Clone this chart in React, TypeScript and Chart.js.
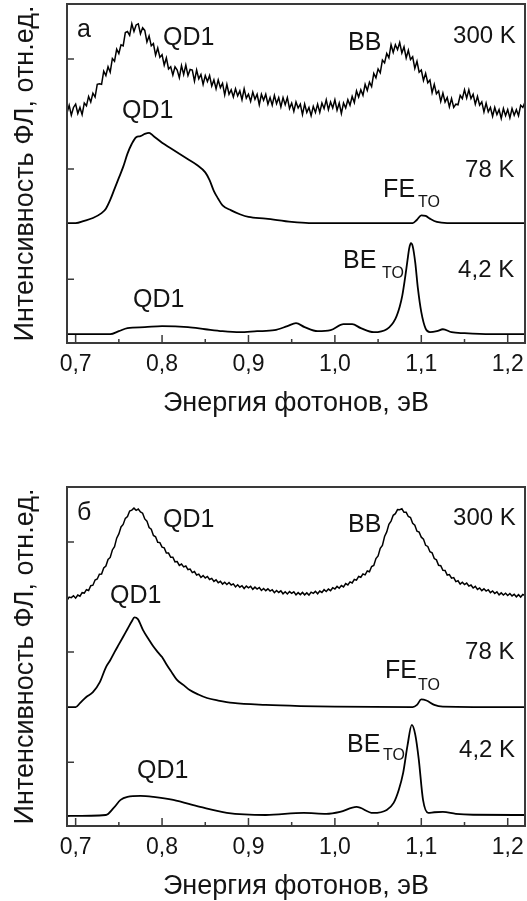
import React, { useEffect, useRef } from "react";
import { Chart, registerables } from "chart.js";

Chart.register(...registerables);

const FONT = "'Liberation Sans', Arial, sans-serif";
const INK = "#141414";
const FRAME = "#3a3a3a";

// Dense energy grid shared by the noisy 300 K spectra (eV)
const energy300 = [
  0.69, 0.6925, 0.695, 0.6975, 0.7, 0.7025, 0.705, 0.7075, 0.71, 0.7125,
  0.715, 0.7175, 0.72, 0.7225, 0.725, 0.7275, 0.73, 0.7325, 0.735, 0.7375,
  0.74, 0.7425, 0.745, 0.7475, 0.75, 0.7525, 0.755, 0.7575, 0.76, 0.7625,
  0.765, 0.7675, 0.77, 0.7725, 0.775, 0.7775, 0.78, 0.7825, 0.785, 0.7875,
  0.79, 0.7925, 0.795, 0.7975, 0.8, 0.8025, 0.805, 0.8075, 0.81, 0.8125,
  0.815, 0.8175, 0.82, 0.8225, 0.825, 0.8275, 0.83, 0.8325, 0.835, 0.8375,
  0.84, 0.8425, 0.845, 0.8475, 0.85, 0.8525, 0.855, 0.8575, 0.86, 0.8625,
  0.865, 0.8675, 0.87, 0.8725, 0.875, 0.8775, 0.88, 0.8825, 0.885, 0.8875,
  0.89, 0.8925, 0.895, 0.8975, 0.9, 0.9025, 0.905, 0.9075, 0.91, 0.9125,
  0.915, 0.9175, 0.92, 0.9225, 0.925, 0.9275, 0.93, 0.9325, 0.935, 0.9375,
  0.94, 0.9425, 0.945, 0.9475, 0.95, 0.9525, 0.955, 0.9575, 0.96, 0.9625,
  0.965, 0.9675, 0.97, 0.9725, 0.975, 0.9775, 0.98, 0.9825, 0.985, 0.9875,
  0.99, 0.9925, 0.995, 0.9975, 1.0, 1.0025, 1.005, 1.0075, 1.01, 1.0125,
  1.015, 1.0175, 1.02, 1.0225, 1.025, 1.0275, 1.03, 1.0325, 1.035, 1.0375,
  1.04, 1.0425, 1.045, 1.0475, 1.05, 1.0525, 1.055, 1.0575, 1.06, 1.0625,
  1.065, 1.0675, 1.07, 1.0725, 1.075, 1.0775, 1.08, 1.0825, 1.085, 1.0875,
  1.09, 1.0925, 1.095, 1.0975, 1.1, 1.1025, 1.105, 1.1075, 1.11, 1.1125,
  1.115, 1.1175, 1.12, 1.1225, 1.125, 1.1275, 1.13, 1.1325, 1.135, 1.1375,
  1.14, 1.1425, 1.145, 1.1475, 1.15, 1.1525, 1.155, 1.1575, 1.16, 1.1625,
  1.165, 1.1675, 1.17, 1.1725, 1.175, 1.1775, 1.18, 1.1825, 1.185, 1.1875,
  1.19, 1.1925, 1.195, 1.1975, 1.2, 1.2025, 1.205, 1.2075, 1.21, 1.2125,
  1.215, 1.2175, 1.22,
];

// Panel а — 300 K (offset PL intensity, arb. units)
const pl300a = [
  1.51, 1.58, 1.49, 1.56, 1.59, 1.505, 1.56, 1.495, 1.6, 1.575,
  1.66, 1.61, 1.69, 1.655, 1.77, 1.775, 1.77, 1.89, 1.85, 1.93,
  1.88, 2.005, 1.98, 2.09, 2.05, 2.13, 2.12, 2.24, 2.25, 2.215,
  2.32, 2.25, 2.31, 2.32, 2.23, 2.285, 2.26, 2.155, 2.21, 2.12,
  2.14, 2.035, 2.1, 2.015, 2.04, 1.945, 2.01, 1.91, 1.93, 1.855,
  1.93, 1.9, 1.83, 1.94, 1.86, 1.945, 1.85, 1.905, 1.9, 1.8,
  1.9, 1.82, 1.86, 1.77, 1.85, 1.795, 1.85, 1.755, 1.81, 1.73,
  1.81, 1.74, 1.78, 1.675, 1.77, 1.68, 1.72, 1.655, 1.73, 1.665,
  1.71, 1.63, 1.73, 1.645, 1.68, 1.615, 1.7, 1.635, 1.68, 1.585,
  1.68, 1.625, 1.68, 1.59, 1.65, 1.58, 1.67, 1.595, 1.65, 1.565,
  1.65, 1.585, 1.65, 1.55, 1.6, 1.525, 1.61, 1.555, 1.59, 1.495,
  1.59, 1.515, 1.56, 1.485, 1.57, 1.515, 1.59, 1.515, 1.6, 1.55,
  1.63, 1.54, 1.61, 1.555, 1.63, 1.535, 1.6, 1.505, 1.6, 1.555,
  1.63, 1.58, 1.66, 1.605, 1.71, 1.655, 1.72, 1.67, 1.77, 1.715,
  1.79, 1.75, 1.87, 1.83, 1.91, 1.875, 1.99, 1.965, 2.05, 2.01,
  2.13, 2.06, 2.13, 2.085, 2.15, 2.055, 2.11, 2.01, 2.08, 1.995,
  2.02, 1.915, 1.98, 1.88, 1.9, 1.805, 1.87, 1.785, 1.81, 1.695,
  1.77, 1.685, 1.71, 1.615, 1.69, 1.61, 1.65, 1.565, 1.64, 1.56,
  1.59, 1.585, 1.67, 1.64, 1.72, 1.645, 1.72, 1.64, 1.68, 1.59,
  1.66, 1.58, 1.61, 1.52, 1.6, 1.52, 1.56, 1.48, 1.56, 1.495,
  1.54, 1.46, 1.55, 1.485, 1.54, 1.465, 1.55, 1.49, 1.54, 1.485,
  1.58, 1.56, 1.61,
];

// Panel б — 300 K
const pl300b = [
  1.47, 1.5, 1.495, 1.512, 1.49, 1.518, 1.508, 1.54, 1.536, 1.567,
  1.56, 1.603, 1.608, 1.655, 1.664, 1.707, 1.71, 1.765, 1.782, 1.842,
  1.86, 1.928, 1.958, 2.035, 2.074, 2.137, 2.16, 2.215, 2.232, 2.282,
  2.29, 2.308, 2.288, 2.3, 2.274, 2.262, 2.21, 2.19, 2.132, 2.117,
  2.06, 2.048, 1.998, 1.995, 1.954, 1.947, 1.9, 1.9, 1.862, 1.862,
  1.82, 1.823, 1.788, 1.8, 1.774, 1.782, 1.75, 1.755, 1.722, 1.732,
  1.7, 1.708, 1.678, 1.695, 1.674, 1.687, 1.66, 1.67, 1.642, 1.657,
  1.63, 1.643, 1.618, 1.635, 1.614, 1.632, 1.61, 1.62, 1.592, 1.612,
  1.59, 1.603, 1.578, 1.6, 1.584, 1.597, 1.57, 1.59, 1.572, 1.587,
  1.56, 1.578, 1.558, 1.575, 1.554, 1.567, 1.54, 1.56, 1.542, 1.557,
  1.53, 1.548, 1.528, 1.55, 1.534, 1.547, 1.52, 1.54, 1.522, 1.542,
  1.52, 1.538, 1.518, 1.545, 1.534, 1.552, 1.53, 1.555, 1.542, 1.567,
  1.55, 1.573, 1.558, 1.585, 1.574, 1.597, 1.58, 1.605, 1.592, 1.622,
  1.61, 1.638, 1.628, 1.66, 1.654, 1.687, 1.68, 1.71, 1.702, 1.737,
  1.73, 1.778, 1.788, 1.85, 1.874, 1.942, 1.97, 2.05, 2.092, 2.162,
  2.19, 2.243, 2.258, 2.295, 2.294, 2.302, 2.27, 2.27, 2.232, 2.222,
  2.17, 2.153, 2.098, 2.09, 2.044, 2.027, 1.97, 1.96, 1.912, 1.902,
  1.85, 1.838, 1.788, 1.785, 1.744, 1.742, 1.7, 1.705, 1.672, 1.677,
  1.64, 1.648, 1.618, 1.635, 1.614, 1.627, 1.6, 1.61, 1.582, 1.597,
  1.57, 1.583, 1.558, 1.575, 1.554, 1.567, 1.54, 1.555, 1.532, 1.547,
  1.52, 1.538, 1.518, 1.535, 1.514, 1.532, 1.51, 1.525, 1.502, 1.522,
  1.5, 1.523, 1.514,
];

// Panel а — 78 K
const energy78a = [
  0.69, 0.7, 0.71, 0.72, 0.73, 0.735, 0.74, 0.745, 0.75, 0.755,
  0.76, 0.765, 0.77, 0.775, 0.78, 0.785, 0.79, 0.8, 0.81, 0.82,
  0.83, 0.84, 0.85, 0.855, 0.86, 0.865, 0.87, 0.88, 0.89, 0.9,
  0.92, 0.95, 0.97, 1.05, 1.09, 1.095, 1.1, 1.105, 1.11, 1.118,
  1.13, 1.22,
];
const pl78a = [
  0.509, 0.509, 0.53, 0.556, 0.6, 0.64, 0.72, 0.82, 0.92, 1.02,
  1.14, 1.23, 1.29, 1.3, 1.32, 1.33, 1.3, 1.24, 1.19, 1.14,
  1.09, 1.04, 0.97, 0.9, 0.8, 0.73, 0.67, 0.625, 0.59, 0.565,
  0.55, 0.52, 0.51, 0.51, 0.51, 0.54, 0.58, 0.575, 0.55, 0.52,
  0.51, 0.51,
];

// Panel а — 4,2 K
const energy4a = [
  0.69, 0.74, 0.75, 0.76, 0.78, 0.8, 0.83, 0.85, 0.87, 0.89,
  0.91, 0.93, 0.945, 0.955, 0.965, 0.98, 0.995, 1.01, 1.02, 1.03,
  1.045, 1.06, 1.07, 1.075, 1.078, 1.081, 1.084, 1.086, 1.088, 1.09,
  1.093, 1.096, 1.1, 1.105, 1.11, 1.118, 1.125, 1.135, 1.15, 1.18,
  1.22,
];
const pl4a = [
  -0.5, -0.5, -0.473, -0.445, -0.436, -0.427, -0.436, -0.455, -0.473, -0.482,
  -0.473, -0.464, -0.427, -0.4, -0.436, -0.473, -0.464, -0.409, -0.409, -0.445,
  -0.482, -0.455, -0.36, -0.25, -0.15, 0.0, 0.17, 0.28, 0.327, 0.3,
  0.15, -0.08, -0.3, -0.45, -0.482, -0.473, -0.455, -0.482, -0.491, -0.5,
  -0.5,
];

// Panel б — 78 K
const energy78b = [
  0.69, 0.7, 0.705, 0.712, 0.72, 0.728, 0.735, 0.74, 0.745, 0.75,
  0.755, 0.76, 0.765, 0.768, 0.772, 0.778, 0.785, 0.79, 0.795, 0.8,
  0.805, 0.81, 0.817, 0.825, 0.832, 0.842, 0.852, 0.865, 0.882, 0.92,
  0.96, 1.0, 1.09, 1.095, 1.1, 1.106, 1.115, 1.125, 1.22,
];
const pl78b = [
  0.5, 0.5, 0.536, 0.59, 0.636, 0.727, 0.862, 0.926, 1.0, 1.07,
  1.14, 1.21, 1.28, 1.315, 1.3, 1.2, 1.11, 1.05, 1.0, 0.955,
  0.89, 0.83, 0.75, 0.7, 0.656, 0.615, 0.583, 0.56, 0.538, 0.52,
  0.51, 0.505, 0.5, 0.52, 0.57, 0.56, 0.52, 0.505, 0.5,
];

// Panel б — 4,2 K
const energy4b = [
  0.69, 0.735, 0.744, 0.752, 0.76, 0.775, 0.79, 0.813, 0.844, 0.875,
  0.92, 0.964, 0.99, 1.006, 1.025, 1.044, 1.06, 1.068, 1.074, 1.079,
  1.084, 1.089, 1.093, 1.097, 1.102, 1.108, 1.115, 1.125, 1.14, 1.16,
  1.22,
];
const pl4b = [
  -0.489, -0.48, -0.416, -0.343, -0.316, -0.307, -0.316, -0.343, -0.407, -0.461,
  -0.48, -0.461, -0.47, -0.452, -0.407, -0.461, -0.434, -0.37, -0.25, -0.098,
  0.15, 0.338, 0.25, 0.03, -0.343, -0.461, -0.455, -0.452, -0.47, -0.478,
  -0.48,
];

const xMajorTicks = [0.7, 0.8, 0.9, 1.0, 1.1, 1.2];
const xMinorTicks = [0.75, 0.85, 0.95, 1.05, 1.15];
const yTicks = [0, 1, 2];
const X_MIN = 0.69;
const X_MAX = 1.22;
const Y_MIN = -0.58;
const Y_MAX = 2.5;

const xTitle = "Энергия фотонов, эВ";
const yTitle = "Интенсивность ФЛ, отн.ед.";

type Ann = { text: string; x: number; y: number; size: number };

const labelsA: Ann[] = [
  { text: "а", x: 0.7016, y: 2.2, size: 25 },
  { text: "QD1", x: 0.8012, y: 2.128, size: 25 },
  { text: "QD1", x: 0.7537, y: 1.465, size: 25 },
  { text: "BB", x: 1.0153, y: 2.083, size: 25 },
  { text: "300 K", x: 1.1368, y: 2.146, size: 24 },
  { text: "78 K", x: 1.1507, y: 0.929, size: 24 },
  { text: "FE", x: 1.0558, y: 0.747, size: 25 },
  { text: "TO", x: 1.0963, y: 0.656, size: 16 },
  { text: "BE", x: 1.0095, y: 0.102, size: 25 },
  { text: "TO", x: 1.0546, y: 0.011, size: 16 },
  { text: "4,2 K", x: 1.1426, y: 0.02, size: 24 },
  { text: "QD1", x: 0.7664, y: -0.253, size: 25 },
];

const labelsB: Ann[] = [
  { text: "б", x: 0.7016, y: 2.2, size: 25 },
  { text: "QD1", x: 0.8012, y: 2.137, size: 25 },
  { text: "QD1", x: 0.7398, y: 1.446, size: 25 },
  { text: "BB", x: 1.0153, y: 2.092, size: 25 },
  { text: "300 K", x: 1.1368, y: 2.155, size: 24 },
  { text: "78 K", x: 1.1507, y: 0.938, size: 24 },
  { text: "FE", x: 1.0581, y: 0.765, size: 25 },
  { text: "TO", x: 1.0963, y: 0.656, size: 16 },
  { text: "BE", x: 1.0141, y: 0.093, size: 25 },
  { text: "TO", x: 1.0558, y: 0.02, size: 16 },
  { text: "4,2 K", x: 1.1437, y: 0.047, size: 24 },
  { text: "QD1", x: 0.7711, y: -0.144, size: 25 },
];

type Series = { e: number[]; v: number[]; smooth: boolean };

const seriesA: Series[] = [
  { e: energy300, v: pl300a, smooth: false },
  { e: energy78a, v: pl78a, smooth: true },
  { e: energy4a, v: pl4a, smooth: true },
];
const seriesB: Series[] = [
  { e: energy300, v: pl300b, smooth: false },
  { e: energy78b, v: pl78b, smooth: true },
  { e: energy4b, v: pl4b, smooth: true },
];

const CANVAS_W = 527;
const CANVAS_H = 418;
const PLOT_BOTTOM = 343;

function decorPlugin(anns: Ann[]) {
  return {
    id: "decor",
    afterDraw(chart: any) {
      const { ctx, chartArea: a, scales } = chart;
      const xs = scales.x;
      const ys = scales.y;
      ctx.save();
      ctx.strokeStyle = FRAME;
      ctx.lineWidth = 2;
      ctx.strokeRect(a.left, a.top, a.right - a.left, a.bottom - a.top);
      ctx.lineWidth = 1.5;
      ctx.beginPath();
      xMajorTicks.forEach((v) => {
        const px = xs.getPixelForValue(v);
        ctx.moveTo(px, a.bottom);
        ctx.lineTo(px, a.bottom - 8);
      });
      xMinorTicks.forEach((v) => {
        const px = xs.getPixelForValue(v);
        ctx.moveTo(px, a.bottom);
        ctx.lineTo(px, a.bottom - 4);
      });
      yTicks.forEach((v) => {
        const py = ys.getPixelForValue(v);
        ctx.moveTo(a.left, py);
        ctx.lineTo(a.left + 7, py);
      });
      ctx.stroke();
      ctx.fillStyle = INK;
      ctx.textAlign = "left";
      ctx.textBaseline = "alphabetic";
      anns.forEach((n) => {
        ctx.font = `${n.size}px ${FONT}`;
        ctx.fillText(n.text, xs.getPixelForValue(n.x), ys.getPixelForValue(n.y));
      });
      ctx.restore();
    },
  };
}

function Panel({ top, series, labels }: { top: number; series: Series[]; labels: Ann[] }) {
  const ref = useRef<HTMLCanvasElement>(null);
  useEffect(() => {
    const canvas = ref.current;
    if (!canvas) return;
    const chart = new Chart(canvas, {
      type: "line",
      data: {
        datasets: series.map((s) => ({
          data: s.e.map((x, i) => ({ x, y: s.v[i] })),
          borderColor: "#000",
          borderWidth: s.smooth ? 1.8 : 1.5,
          pointRadius: 0,
          fill: false,
          tension: s.smooth ? 0.4 : 0,
          cubicInterpolationMode: s.smooth ? "monotone" : "default",
        })),
      },
      options: {
        responsive: false,
        maintainAspectRatio: false,
        animation: false,
        layout: { padding: { top: 4, right: 2, left: 0, bottom: 0 } },
        plugins: { legend: { display: false }, tooltip: { enabled: false } },
        scales: {
          x: {
            type: "linear",
            min: X_MIN,
            max: X_MAX,
            afterBuildTicks: (s: any) => {
              s.ticks = xMajorTicks.map((v) => ({ value: v }));
            },
            afterFit: (s: any) => {
              s.height = CANVAS_H - PLOT_BOTTOM;
            },
            ticks: {
              autoSkip: false,
              maxRotation: 0,
              padding: 0,
              color: INK,
              font: { family: FONT, size: 23 },
              callback: (v: any) => Number(v).toFixed(1).replace(".", ","),
            },
            grid: { display: false },
            border: { display: false },
            title: {
              display: true,
              text: xTitle,
              color: INK,
              font: { family: FONT, size: 27, lineHeight: 1 },
              padding: { top: 0, bottom: 0.5 },
            },
          },
          y: {
            type: "linear",
            min: Y_MIN,
            max: Y_MAX,
            afterBuildTicks: (s: any) => {
              s.ticks = yTicks.map((v) => ({ value: v }));
            },
            afterFit: (s: any) => {
              s.width = 67;
            },
            ticks: { display: false },
            grid: { display: false },
            border: { display: false },
            title: {
              display: true,
              text: yTitle,
              color: INK,
              font: { family: FONT, size: 27, lineHeight: 1 },
              padding: { top: 12.5, bottom: 0 },
            },
          },
        },
      } as any,
      plugins: [decorPlugin(labels)],
    });
    return () => chart.destroy();
  }, [series, labels]);
  return (
    <canvas
      ref={ref}
      width={CANVAS_W}
      height={CANVAS_H}
      style={{ position: "absolute", left: 0, top, width: CANVAS_W, height: CANVAS_H }}
    />
  );
}

export default function App() {
  return (
    <div style={{ position: "fixed", left: 0, top: 0, width: 527, height: 901, background: "#fff" }}>
      <Panel top={0} series={seriesA} labels={labelsA} />
      <Panel top={483} series={seriesB} labels={labelsB} />
    </div>
  );
}
